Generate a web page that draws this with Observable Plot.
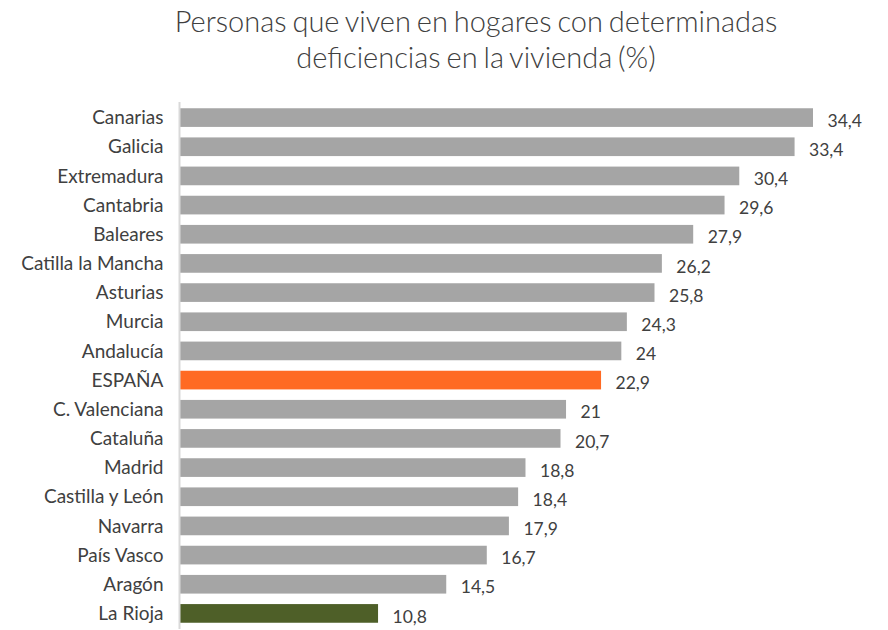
<!DOCTYPE html>
<html><head><meta charset="utf-8">
<script src="https://cdn.jsdelivr.net/npm/d3@7"></script>
<script src="https://cdn.jsdelivr.net/npm/@observablehq/plot@0.6"></script>
<style>
body{margin:0;background:#fff;font-family:Lato,sans-serif;}
#title{width:888px;height:90px;box-sizing:border-box;padding-left:64px;padding-top:3px;text-align:center;font-size:29px;font-weight:300;line-height:36px;color:#404040;word-spacing:-2px;}
</style></head><body>
<div id="title">Personas que viven en hogares con determinadas<br>deficiencias en la vivienda (%)</div>
<div id="chart"></div>
<script>
const regions = ["Canarias","Galicia","Extremadura","Cantabria","Baleares","Catilla la Mancha","Asturias","Murcia","Andalucía","ESPAÑA","C. Valenciana","Cataluña","Madrid","Castilla y León","Navarra","País Vasco","Aragón","La Rioja"];
const values = [34.4,33.4,30.4,29.6,27.9,26.2,25.8,24.3,24,22.9,21,20.7,18.8,18.4,17.9,16.7,14.5,10.8];
const colorFor = r => r === "ESPAÑA" ? "#ff6a23" : r === "La Rioja" ? "#4e5f28" : "#a5a5a5";
const data = regions.map((r,i)=>({region:r, value:values[i], color:colorFor(r)}));
const fmt = v => String(v).replace(".", ",");
const chart = Plot.plot({
  width: 888, height: 540,
  marginLeft: 179, marginRight: 75, marginTop: 13, marginBottom: 2,
  style:{fontFamily:"Lato,sans-serif", fontSize:"16px", color:"#404040", background:"#fff"},
  x:{domain:[0,34.4], axis:null},
  y:{domain:regions, paddingInner:0.36, paddingOuter:0.18, round:false, label:null},
  marks:[
    Plot.barX(data,{y:"region", x:"value", fill:"color"}),
    Plot.ruleX([0],{stroke:"#d9d9d9", strokeWidth:2, insetTop:-1, insetBottom:-1}),
    Plot.text(data,{y:"region", x:"value", text:d=>fmt(d.value), textAnchor:"start", dx:14, dy:3, fill:"#404040", fontSize:17.5}),
    Plot.axisY({tickSize:0, tickPadding:16, fontSize:19, label:null, fill:"#404040"})
  ]
});
document.getElementById("chart").appendChild(chart);
</script></body></html>
